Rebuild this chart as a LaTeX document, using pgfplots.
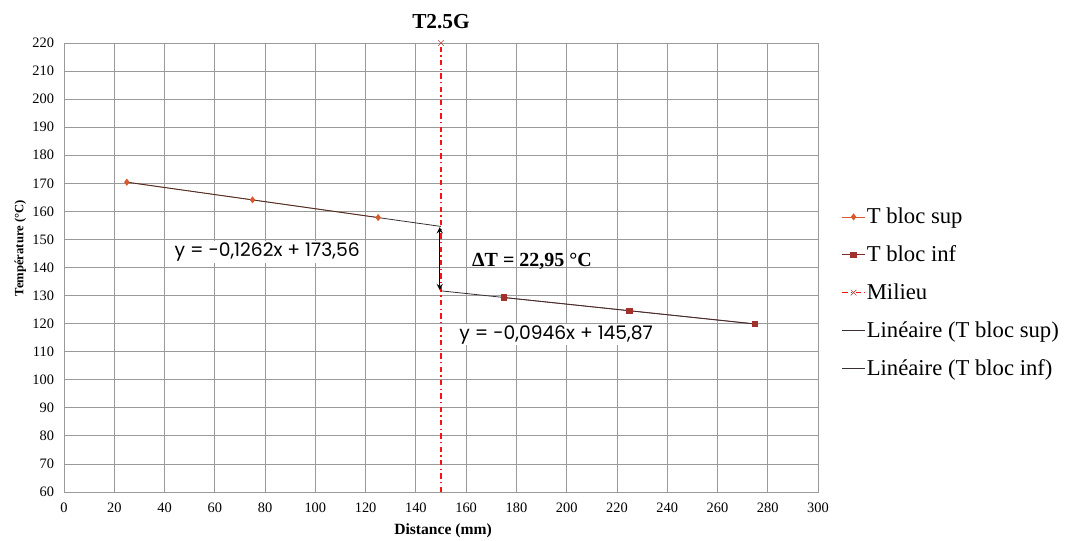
\documentclass[border=0pt]{standalone}
\usepackage{fontspec}
\setmainfont{Liberation Serif}
\newfontfamily\eqfont{Poppins}
\usepackage{pgfplots}
\pgfplotsset{compat=1.18}
\definecolor{supc}{HTML}{D9582E}
\definecolor{infc}{HTML}{A3312B}
\definecolor{gridc}{HTML}{9A9A9A}
\definecolor{trendc}{HTML}{3A3030}
\definecolor{milc}{HTML}{FF1010}
\begin{document}
\begin{tikzpicture}
\path[use as bounding box] (-48pt,-36pt) rectangle ++(801pt,405pt);
\begin{axis}[
  at={(0,0)}, anchor=south west,
  scale only axis, width=565.5pt, height=336.75pt,
  xmin=0, xmax=300, ymin=60, ymax=220,
  xtick={0,20,...,300}, ytick={60,70,...,220},
  grid=major, major grid style={gridc, line width=0.6pt},
  axis line style={gridc, line width=0.6pt},
  major tick length=0pt,
  tick label style={font=\fontsize{10.8}{12}\selectfont},
  /pgf/number format/assume math mode=true,
  yticklabel style={xshift=-4pt},
  xticklabel style={yshift=-5pt},
  clip=false,
  legend style={at={(1.031,0.636)}, anchor=north west, draw=none, fill=none,
    font=\fontsize{17}{19}\selectfont, row sep=13pt, inner sep=0pt,
    nodes={inner sep=1pt}},
  legend cell align=left,
]
\addplot[supc, line width=0.6pt, mark=diamond*, mark size=2.2pt, mark options={fill=supc, draw=supc}]
  coordinates {(25,170.4) (75,164.1) (125,157.8)};
\addlegendentry{T bloc sup}
\addplot[infc!80!black, line width=0.6pt, mark=square*, mark size=2pt, mark options={fill=infc, draw=infc}]
  coordinates {(175,129.3) (225,124.6) (275,119.9)};
\addlegendentry{T bloc inf}
\addplot[milc, line width=0.8pt, dash pattern=on 4pt off 2.5pt on 1pt off 2.5pt, mark=x, mark size=3pt, mark indices={2}, mark options={solid, draw=red!40!gray, line width=0.5pt}]
  coordinates {(150,60) (150,220)};
\addlegendentry{Milieu}
\addplot[trendc, line width=0.6pt] coordinates {(25,170.405) (150,154.63)};
\addlegendentry{Linéaire (T bloc sup)}
\addplot[trendc, line width=0.6pt] coordinates {(150,131.68) (275,119.855)};
\addlegendentry{Linéaire (T bloc inf)}
\draw[black, line width=1.1pt, <->, >=stealth] (axis cs:149.5,154.4) -- (axis cs:149.5,131.9);
\node[font=\fontsize{16}{18}\selectfont\bfseries] at (rel axis cs:0.5,1.047) {T2.5G};
\node[font=\fontsize{15}{17}\selectfont\bfseries] at (axis cs:186.2,142.0) {ΔT = 22,95 °C};
\node[fill=white, inner sep=1pt, font=\eqfont\fontsize{14}{16}\selectfont] at (axis cs:80.8,145.5) {y = -0,1262x + 173,56};
\node[fill=white, inner sep=1pt, font=\eqfont\fontsize{14}{16}\selectfont] at (axis cs:195.8,116.0) {y = -0,0946x + 145,87};
\node[rotate=90, font=\fontsize{9.5}{11}\selectfont\bfseries] at (rel axis cs:-0.058,0.543) {Température (°C)};
\node[font=\fontsize{11.7}{13}\selectfont\bfseries] at (rel axis cs:0.5027,-0.0869) {Distance (mm)};
\end{axis}
\end{tikzpicture}
\end{document}
